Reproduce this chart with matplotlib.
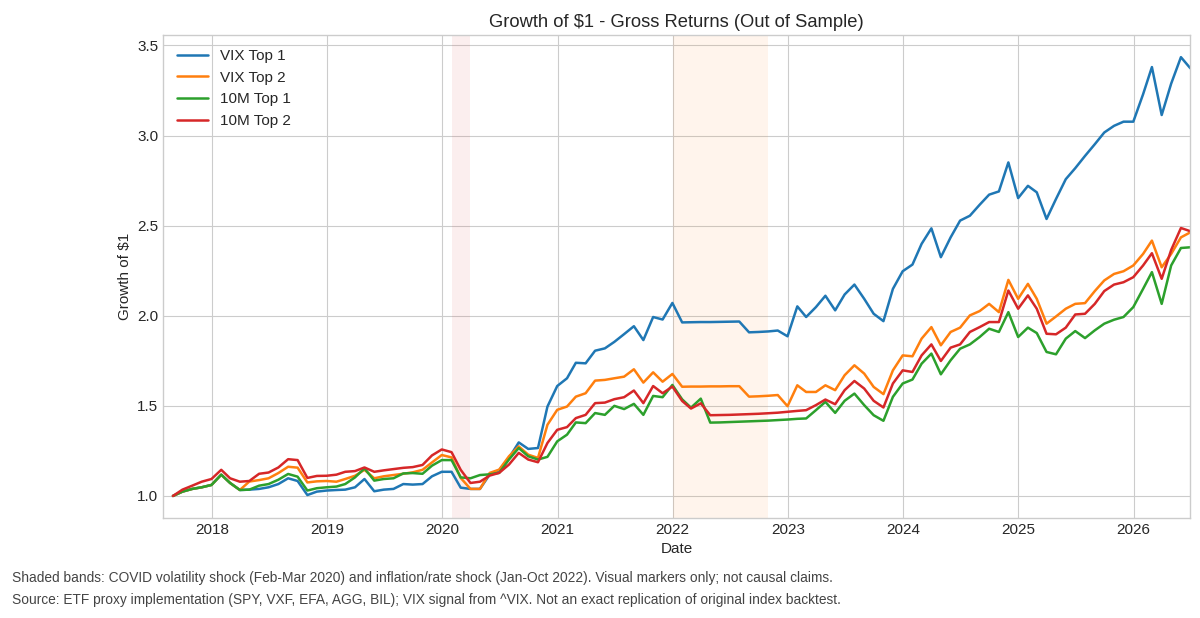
import pandas as pd
import matplotlib
matplotlib.use('Agg')
import matplotlib.pyplot as plt

# --- Data (month-end values) ---
dates = pd.date_range('2017-08-31', '2026-06-30', freq='ME')

vix_top1 = [
    1.0, 1.024, 1.039, 1.048, 1.061,
    1.118, 1.072, 1.033, 1.035, 1.039, 1.048, 1.066, 1.098, 1.083, 1.005, 1.024, 1.03,
    1.033, 1.035, 1.048, 1.094, 1.026, 1.035, 1.039, 1.066, 1.063, 1.066, 1.109, 1.134,
    1.134, 1.046, 1.039, 1.039, 1.119, 1.143, 1.211, 1.297, 1.261, 1.266, 1.496, 1.61,
    1.653, 1.739, 1.736, 1.806, 1.819, 1.855, 1.898, 1.942, 1.865, 1.993, 1.979, 2.071,
    1.963, 1.964, 1.965, 1.965, 1.966, 1.967, 1.968, 1.908, 1.91, 1.913, 1.918, 1.886,
    2.052, 1.993, 2.048, 2.111, 2.03, 2.118, 2.173, 2.094, 2.011, 1.97, 2.149, 2.247,
    2.284, 2.399, 2.485, 2.325, 2.435, 2.528, 2.555, 2.616, 2.672, 2.69, 2.851, 2.653,
    2.721, 2.685, 2.537, 2.648, 2.758, 2.819, 2.887, 2.952, 3.017, 3.054, 3.077, 3.077,
    3.229, 3.38, 3.114, 3.288, 3.435, 3.373,
]
vix_top2 = [
    1.0, 1.024, 1.039, 1.048, 1.061,
    1.118, 1.072, 1.033, 1.08, 1.088, 1.098, 1.127, 1.162, 1.157, 1.075, 1.081, 1.083,
    1.079, 1.094, 1.112, 1.145, 1.098, 1.109, 1.116, 1.123, 1.131, 1.145, 1.186, 1.227,
    1.214, 1.1, 1.039, 1.039, 1.128, 1.146, 1.22, 1.275, 1.229, 1.211, 1.395, 1.478,
    1.496, 1.551, 1.57, 1.64, 1.644, 1.653, 1.662, 1.703, 1.629, 1.686, 1.634, 1.677,
    1.606, 1.607, 1.607, 1.608, 1.608, 1.609, 1.609, 1.551, 1.553, 1.556, 1.56, 1.498,
    1.614, 1.577, 1.577, 1.614, 1.587, 1.67, 1.725, 1.679, 1.605, 1.565, 1.697, 1.78,
    1.775, 1.873, 1.937, 1.836, 1.91, 1.934, 2.002, 2.026, 2.066, 2.02, 2.199, 2.094,
    2.177, 2.094, 1.956, 1.996, 2.039, 2.066, 2.07, 2.137, 2.196, 2.232, 2.247, 2.279,
    2.343, 2.417, 2.269, 2.343, 2.435, 2.463,
]
m10_top1 = [
    1.0, 1.024, 1.039, 1.048, 1.061,
    1.118, 1.072, 1.033, 1.035, 1.057, 1.066, 1.09, 1.122, 1.107, 1.03, 1.043, 1.048,
    1.052, 1.066, 1.103, 1.153, 1.085, 1.094, 1.098, 1.125, 1.127, 1.123, 1.168, 1.199,
    1.199, 1.103, 1.098, 1.116, 1.12, 1.128, 1.202, 1.266, 1.22, 1.202, 1.217, 1.303,
    1.34, 1.408, 1.404, 1.46, 1.45, 1.5, 1.482, 1.511, 1.45, 1.555, 1.548, 1.616,
    1.536, 1.49, 1.54, 1.407, 1.408, 1.41, 1.412, 1.414, 1.416, 1.418, 1.421, 1.424,
    1.428, 1.43, 1.476, 1.522, 1.461, 1.528, 1.568, 1.504, 1.448, 1.417, 1.55, 1.624,
    1.646, 1.734, 1.79, 1.675, 1.753, 1.817, 1.841, 1.882, 1.928, 1.91, 2.02, 1.882,
    1.934, 1.904, 1.799, 1.786, 1.873, 1.915, 1.876, 1.919, 1.956, 1.978, 1.993, 2.048,
    2.149, 2.242, 2.066, 2.279, 2.376, 2.38,
]
m10_top2 = [
    1.0, 1.035, 1.057, 1.079, 1.094,
    1.145, 1.098, 1.079, 1.083, 1.123, 1.13, 1.158, 1.204, 1.199, 1.10, 1.111, 1.112,
    1.118, 1.134, 1.138, 1.158, 1.134, 1.142, 1.149, 1.156, 1.16, 1.172, 1.225, 1.258,
    1.243, 1.145, 1.072, 1.079, 1.113, 1.128, 1.174, 1.239, 1.202, 1.187, 1.294, 1.367,
    1.382, 1.432, 1.45, 1.515, 1.518, 1.537, 1.548, 1.585, 1.515, 1.61, 1.57, 1.607,
    1.527, 1.485, 1.514, 1.448, 1.449, 1.45, 1.452, 1.454, 1.456, 1.459, 1.462, 1.467,
    1.472, 1.476, 1.504, 1.535, 1.509, 1.587, 1.638, 1.596, 1.528, 1.491, 1.624, 1.697,
    1.688, 1.78, 1.841, 1.749, 1.823, 1.841, 1.91, 1.937, 1.965, 1.965, 2.14, 2.039,
    2.113, 2.039, 1.9, 1.897, 1.934, 2.007, 2.011, 2.066, 2.137, 2.173, 2.186, 2.214,
    2.279, 2.347, 2.205, 2.365, 2.487, 2.469,
]

series_names = ['VIX Top 1', 'VIX Top 2', '10M Top 1', '10M Top 2']

# shaded stress periods
covid_band = ('2020-02-01', '2020-03-31')
inflation_band = ('2022-01-01', '2022-10-31')

footnote_1 = ('Shaded bands: COVID volatility shock (Feb-Mar 2020) and inflation/rate shock '
              '(Jan-Oct 2022). Visual markers only; not causal claims.')
footnote_2 = ('Source: ETF proxy implementation (SPY, VXF, EFA, AGG, BIL); VIX signal from ^VIX. '
              'Not an exact replication of original index backtest.')

# --- Plotting ---
plt.style.use('seaborn-v0_8-whitegrid')
plt.rcParams['font.family'] = ['Liberation Sans', 'DejaVu Sans']

fig = plt.figure(figsize=(12, 6.18), dpi=100)
ax = fig.add_axes([0.136, 0.162, 0.856, 0.781])

ax.axvspan(pd.Timestamp(covid_band[0]), pd.Timestamp(covid_band[1]),
           color='tab:red', alpha=0.08, lw=0)
ax.axvspan(pd.Timestamp(inflation_band[0]), pd.Timestamp(inflation_band[1]),
           color='tab:orange', alpha=0.08, lw=0)

for name, vals in zip(series_names, [vix_top1, vix_top2, m10_top1, m10_top2]):
    ax.plot(dates, vals, label=name, lw=1.8)

ax.set_xlim(pd.Timestamp('2017-07-31'), dates[-1])
ax.set_title('Growth of $1 - Gross Returns (Out of Sample)', fontsize=13.2)
ax.set_xlabel('Date', fontsize=11)
ax.set_ylabel('Growth of $1', fontsize=11)
ax.tick_params(labelsize=11)
ax.legend(loc='upper left', fontsize=11)

fig.text(0.01, 0.065, footnote_1, fontsize=9.9, color='#444444', va='center')
fig.text(0.01, 0.029, footnote_2, fontsize=9.9, color='#444444', va='center')

fig.savefig('out.png', dpi=100)
